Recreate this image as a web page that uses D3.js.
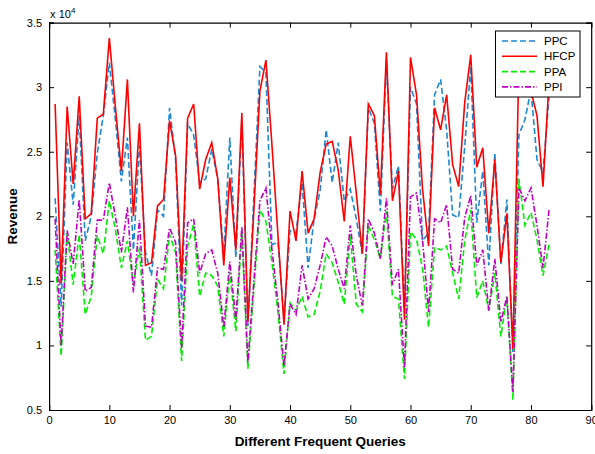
<!DOCTYPE html>
<html>
<head>
<meta charset="utf-8">
<script src="https://cdn.jsdelivr.net/npm/d3@7"></script>
<style>
  body { margin: 0; background: #fff; }
  text { font-family: "Liberation Sans", Arial, sans-serif; }
</style>
</head>
<body>
<div id="chart"></div>
<script>
// values in units of 10^4, query index 1..83
const ppc = [2.14,1.30,2.57,2.09,2.78,1.81,2.00,2.49,2.78,3.19,2.75,2.27,2.61,1.74,2.55,
  1.72,1.54,2.05,2.00,2.84,2.44,1.31,2.72,2.63,2.26,2.29,2.52,2.29,1.70,2.61,
  1.68,2.75,1.15,2.16,3.16,3.11,1.78,1.80,1.20,1.89,1.87,2.26,1.60,1.98,2.20,
  2.67,2.26,2.57,2.12,2.21,1.98,1.71,2.84,2.72,2.04,3.20,2.21,2.39,1.28,3.00,
  2.87,1.81,1.87,2.94,3.06,2.67,2.01,1.99,2.54,3.16,1.95,2.35,1.62,2.49,1.63,
  2.13,0.95,2.63,2.75,2.98,2.44,2.34,2.92];
const hfcp = [2.87,1.48,2.85,2.25,2.93,1.98,2.02,2.76,2.79,3.38,2.85,2.35,3.06,2.00,2.72,
  1.62,1.64,2.08,2.13,2.74,2.47,1.50,2.76,2.87,2.21,2.44,2.57,2.29,1.62,2.30,
  1.74,2.80,1.18,2.05,2.97,3.21,2.55,1.85,1.16,2.04,1.81,2.35,1.87,1.98,2.34,
  2.56,2.58,2.36,1.96,2.62,2.18,1.71,2.87,2.78,2.17,3.27,2.12,2.35,1.20,3.23,
  2.94,2.21,1.77,2.84,2.67,2.94,2.40,2.23,2.88,3.25,2.38,2.53,1.87,2.44,1.64,
  2.02,0.97,3.20,3.10,2.97,2.78,2.23,3.05];
const ppa = [1.74,0.92,1.87,1.47,1.86,1.24,1.38,1.85,1.71,2.12,1.90,1.60,1.81,1.47,1.76,
  1.04,1.07,1.51,1.44,1.86,1.72,0.88,1.77,1.94,1.38,1.56,1.54,1.46,1.07,1.57,
  1.11,1.87,0.82,1.44,2.05,1.96,1.64,1.26,0.78,1.33,1.27,1.38,1.22,1.24,1.42,
  1.71,1.64,1.49,1.32,1.85,1.32,1.26,1.93,1.82,1.67,2.04,1.38,1.36,0.74,1.88,
  1.82,1.60,1.14,1.76,1.74,1.77,1.56,1.36,1.81,2.05,1.37,1.50,1.27,1.56,1.07,
  1.38,0.58,2.29,1.93,2.03,1.82,1.54,1.78];
const ppi = [1.98,1.00,1.89,1.63,2.13,1.42,1.45,1.97,1.97,2.26,2.00,1.72,2.07,1.41,1.97,
  1.15,1.14,1.60,1.59,1.91,1.80,0.98,1.95,1.98,1.56,1.71,1.74,1.56,1.14,1.65,
  1.20,1.92,0.87,1.50,2.12,2.22,1.74,1.33,0.84,1.32,1.24,1.62,1.36,1.44,1.62,
  1.84,1.77,1.59,1.44,1.93,1.54,1.31,1.98,1.87,1.67,2.14,1.47,1.59,0.83,2.15,
  2.18,1.82,1.26,1.98,1.95,2.09,1.59,1.56,1.99,2.16,1.62,1.74,1.27,1.67,1.18,
  1.38,0.64,2.22,2.12,2.22,1.93,1.60,2.05];

const seriesNames = ["PPC", "HFCP", "PPA", "PPI"];
const xTicks = [0, 10, 20, 30, 40, 50, 60, 70, 80, 90];
const yTicks = [0.5, 1, 1.5, 2, 2.5, 3, 3.5];
const yTickLabels = ["0.5", "1", "1.5", "2", "2.5", "3", "3.5"];

const width = 595, height = 454;
const margin = {top: 22.6, right: 3.8, bottom: 44, left: 49.1};
const w = width - margin.left - margin.right;
const h = height - margin.top - margin.bottom;

const svg = d3.select("#chart").append("svg")
  .attr("width", width)
  .attr("height", height);

const g = svg.append("g")
  .attr("transform", "translate(" + margin.left + "," + margin.top + ")");

const x = d3.scaleLinear().domain([0, 90]).range([0, w]);
const y = d3.scaleLinear().domain([0.5, 3.5]).range([h, 0]);

const styles = [
  {data: ppc, color: "#1f88d2", dash: "6,3", width: 1.6},
  {data: hfcp, color: "#ff0000", dash: null, width: 1.6},
  {data: ppa, color: "#00ee00", dash: "6,3", width: 1.6},
  {data: ppi, color: "#c000c0", dash: "6,2,1.5,2", width: 1.6}
];

const line = d3.line()
  .x((d, i) => x(i + 1))
  .y(d => y(d));

// draw series
styles.forEach(s => {
  g.append("path")
    .datum(s.data)
    .attr("fill", "none")
    .attr("stroke", s.color)
    .attr("stroke-width", s.width)
    .attr("stroke-dasharray", s.dash)
    .attr("stroke-linejoin", "miter")
    .attr("d", line);
});

// axes, ticks pointing inward like matlab
const xAxis = d3.axisBottom(x).tickValues(xTicks).tickSize(-5).tickPadding(8);
const yAxis = d3.axisLeft(y).tickValues(yTicks).tickSize(-5).tickPadding(7)
  .tickFormat((d, i) => yTickLabels[i]);

g.append("g")
  .attr("class", "x-axis axis")
  .attr("transform", "translate(0," + h + ")")
  .call(xAxis);

g.append("g")
  .attr("class", "y-axis axis")
  .call(yAxis);

g.append("g")
  .attr("transform", "translate(0,0)")
  .call(d3.axisTop(x).tickValues(xTicks).tickSize(-5).tickFormat(""));

g.append("g")
  .attr("transform", "translate(" + w + ",0)")
  .call(d3.axisRight(y).tickValues(yTicks).tickSize(-5).tickFormat(""));

g.selectAll(".domain").attr("stroke", "#000").attr("stroke-width", 1.2);
g.selectAll(".tick line").attr("stroke", "#000");
g.selectAll(".tick text").attr("font-size", 11).attr("fill", "#000")
  .style("font-family", "Liberation Sans, Arial, sans-serif");
g.selectAll(".x-axis .tick text").attr("dy", "0.55em");

// exponent label
const expo = svg.append("text")
  .attr("x", margin.left + 1)
  .attr("y", 18)
  .attr("font-size", 11);
expo.append("tspan").text("x 10");
expo.append("tspan").attr("dy", -5).attr("font-size", 8).text("4");

// axis titles
svg.append("text")
  .attr("x", margin.left + w / 2)
  .attr("y", 446)
  .attr("text-anchor", "middle")
  .attr("font-size", 13.5)
  .attr("font-weight", "bold")
  .text("Different Frequent Queries");

svg.append("text")
  .attr("transform", "translate(17," + (margin.top + h / 2) + ") rotate(-90)")
  .attr("text-anchor", "middle")
  .attr("font-size", 13.5)
  .attr("font-weight", "bold")
  .text("Revenue");

// legend
const legend = svg.append("g").attr("transform", "translate(495.5,31)");
legend.append("rect")
  .attr("width", 84.5)
  .attr("height", 66)
  .attr("fill", "#fff")
  .attr("stroke", "#000")
  .attr("stroke-width", 1);

styles.forEach((s, i) => {
  const ly = 10 + i * 15.3;
  legend.append("line")
    .attr("x1", 6.5).attr("x2", 41.5)
    .attr("y1", ly).attr("y2", ly)
    .attr("stroke", s.color)
    .attr("stroke-width", s.width)
    .attr("stroke-dasharray", s.dash);
  legend.append("text")
    .attr("x", 48.5)
    .attr("y", ly + 4)
    .attr("font-size", 11.5)
    .text(seriesNames[i]);
});
</script>
</body>
</html>
